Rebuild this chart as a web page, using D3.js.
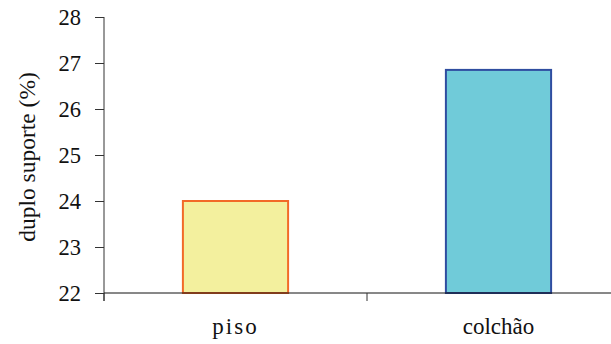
<!DOCTYPE html>
<html><head><meta charset="utf-8">
<script src="https://cdn.jsdelivr.net/npm/d3@7"></script>
<style>body{margin:0;background:#fff}svg{display:block}</style>
</head><body>
<svg id="c" width="611" height="344"></svg>
<script>
const categories = ["piso", "colchão"];
const values = [24.0, 26.85];
const yTicks = [22, 23, 24, 25, 26, 27, 28];
const fills = ["#F3F09E", "#70CBD9"];
const strokes = ["#F26A28", "#2F4DA0"];

const FONT = "'Liberation Serif', 'Times New Roman', Times, 'DejaVu Serif', serif";
const svg = d3.select("#c");
const x0 = 104, x1 = 630, yTop = 17, yBot = 293;
const x = d3.scaleBand().domain(categories).range([x0, x1]).paddingInner(0).paddingOuter(0);
const y = d3.scaleLinear().domain([22, 28]).range([yBot, yTop]);
const bw = x.bandwidth() * 0.4;

svg.selectAll("rect.bar").data(values).join("rect")
  .attr("class", "bar")
  .attr("x", (d, i) => x(categories[i]) + (x.bandwidth() - bw) / 2)
  .attr("y", d => y(d))
  .attr("width", bw)
  .attr("height", d => y(22) - y(d))
  .attr("fill", (d, i) => fills[i])
  .attr("stroke", (d, i) => strokes[i])
  .attr("stroke-width", 2);

// y axis
const ya = svg.append("g").attr("transform", `translate(${x0},0)`)
  .call(d3.axisLeft(y).tickValues(yTicks).tickFormat(d3.format("d")).tickSize(9).tickPadding(14));
ya.attr("font-family", null).attr("font-size", null);
ya.select(".domain").attr("d", `M0,${yTop}V${yBot + 8}`).attr("stroke", "#333");
ya.selectAll(".tick line").attr("stroke", "#333");
ya.selectAll(".tick text").style("font-size", "22.5px").attr("fill", "#111")
  .style("font-family", FONT);

// x axis
const xa = svg.append("g").attr("transform", `translate(0,${yBot})`);
xa.append("line").attr("x1", x0).attr("x2", 611).attr("y1", 0).attr("y2", 0).attr("stroke", "#111");
const bounds = [x0, x0 + x.bandwidth()];
xa.selectAll("line.tk").data(bounds).join("line").attr("class", "tk")
  .attr("x1", d => d).attr("x2", d => d).attr("y1", 0).attr("y2", 8).attr("stroke", "#333");
xa.selectAll("text").data(categories).join("text")
  .attr("x", d => x(d) + x.bandwidth() / 2)
  .attr("y", 41)
  .attr("text-anchor", "middle")
  .style("font-size", "23px")
  .style("font-family", FONT)
  .attr("fill", "#111")
  .attr("letter-spacing", (d, i) => i === 0 ? "2px" : "0px")
  .text(d => d);

svg.append("text")
  .attr("transform", `translate(35,157) rotate(-90)`)
  .attr("text-anchor", "middle")
  .style("font-size", "23.5px")
  .style("font-family", FONT)
  .attr("fill", "#111")
  .text("duplo suporte (%)");
</script>
</body></html>
